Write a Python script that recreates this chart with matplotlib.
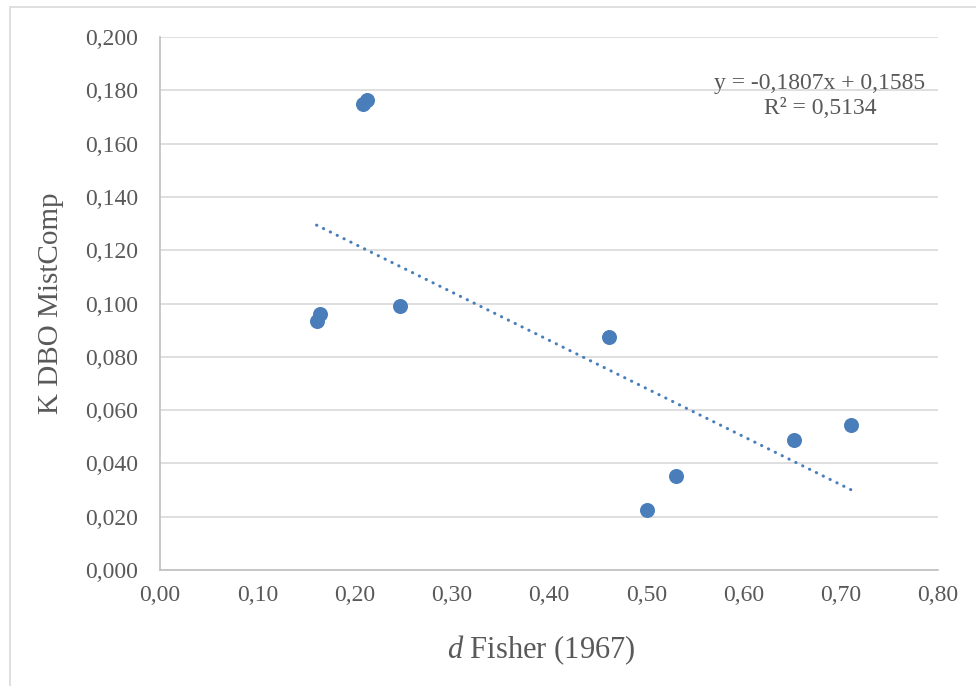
import matplotlib
matplotlib.use("Agg")
import matplotlib.pyplot as plt
import numpy as np

# Data
d_fisher = [0.161, 0.165, 0.209, 0.213, 0.247, 0.462, 0.501, 0.531, 0.652, 0.711]
k_dbo = [0.0934, 0.0961, 0.1749, 0.1764, 0.0991, 0.0874, 0.0225, 0.0353, 0.0488, 0.0544]

# Trendline as shown in the chart
slope = -0.1807
intercept = 0.1585
r2 = 0.5134

blue = '#4a7ebb'
grey_text = '#595959'
grid_col = '#d9d9d9'

plt.rcParams['font.family'] = ['Liberation Serif', 'DejaVu Serif']
plt.rcParams['mathtext.fontset'] = 'custom'
plt.rcParams['mathtext.rm'] = 'Liberation Serif'
plt.rcParams['mathtext.it'] = 'Liberation Serif:italic'

fig = plt.figure(figsize=(9.76, 6.86), dpi=100)
ax = fig.add_axes([160 / 976, 1 - 570 / 686, 778 / 976, 533 / 686])

# Outer chart border (only left/top visible in the picture)
fig.patches.append(plt.Rectangle((10 / 976, -0.05), 1.2, 1 - 7 / 686 + 0.05,
                                 transform=fig.transFigure, fill=False,
                                 edgecolor=grid_col, linewidth=1.2))

ax.scatter(d_fisher, k_dbo, s=117, color=blue, zorder=3, linewidths=0)

# Trendline between min and max x
xs = np.array([min(d_fisher), max(d_fisher)])
ax.plot(xs, slope * xs + intercept, color=blue, linewidth=2.2,
        linestyle=(0, (0.1, 2.4)), dash_capstyle='round', zorder=2)

ax.set_xlim(0, 0.8)
ax.set_ylim(0, 0.2)
ax.set_xticks(np.arange(0, 0.81, 0.1))
ax.set_yticks(np.arange(0, 0.201, 0.02))
ax.set_xticklabels([('%.2f' % v).replace('.', ',') for v in np.arange(0, 0.81, 0.1)])
ax.set_yticklabels([('%.3f' % v).replace('.', ',') for v in np.arange(0, 0.201, 0.02)])

ax.grid(axis='y', color=grid_col, linewidth=1.2)
ax.set_axisbelow(True)
ax.tick_params(length=0, labelsize=17, colors=grey_text)
ax.tick_params(axis='y', pad=16)
ax.tick_params(axis='x', pad=11)

for side in ['top', 'right']:
    ax.spines[side].set_visible(False)
for side in ['left', 'bottom']:
    ax.spines[side].set_color('#bfbfbf')
    ax.spines[side].set_linewidth(1.2)

# Equation label
eq = ('y = %s' % ('%.4f' % slope).replace('.', ',')) + 'x + ' + ('%.4f' % intercept).replace('.', ',')
ax.text(820 / 976, 1 - 96 / 686, eq + '\nR² = ' + ('%.4f' % r2).replace('.', ','),
        transform=fig.transFigure, ha='center', va='center', fontsize=17,
        color=grey_text, linespacing=1.2)

fig.text(51 / 976, 1 - 303 / 686, 'K DBO MistComp', rotation=90, ha='center',
         va='center', fontsize=21, color=grey_text)
fig.text(541 / 976, 1 - 650 / 686, r'$d$ Fisher (1967)', ha='center', va='center',
         fontsize=22, color=grey_text)

fig.savefig('out.png', dpi=100)
